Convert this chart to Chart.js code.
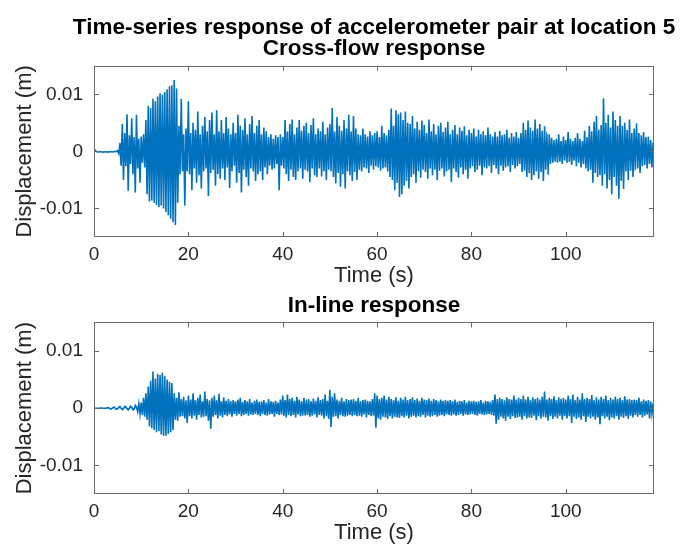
<!DOCTYPE html>
<html>
<head>
<meta charset="utf-8">
<script src="https://cdn.jsdelivr.net/npm/chart.js@4.4.1/dist/chart.umd.min.js"></script>
<style>
  html, body { margin: 0; padding: 0; background: #fff; overflow: hidden; }
  #wrap { position: relative; width: 686px; height: 545px; overflow: hidden; }
  .panel { position: absolute; left: 0; width: 748px; }
  #top { top: 0; height: 290px; }
  #bot { top: 290px; height: 255px; }
</style>
</head>
<body>
<div id="wrap">
  <div class="panel" id="top"><canvas id="crossChart" width="748" height="290"></canvas></div>
  <div class="panel" id="bot"><canvas id="inlineChart" width="748" height="255"></canvas></div>
</div>
<script>
// sample spacing of the values below (s)
const DT = 0.25;
const X_MAX = 118.7;
const Y_MIN = -0.015, Y_MAX = 0.015;
const X_TICKS = [0, 20, 40, 60, 80, 100];
const Y_TICKS = [-0.01, 0, 0.01];
const X_TICK_LABELS = ['0', '20', '40', '60', '80', '100'];
const Y_TICK_LABELS = ['-0.01', '0', '0.01'];

const MAIN_TITLE = ['Time-series response of accelerometer pair at location 5', 'Cross-flow response'];
const INLINE_TITLE = 'In-line response';
const X_LABEL = 'Time (s)';
const Y_LABEL = 'Displacement (m)';

// displacement, in mm, one row per 5 s
const crossFlowMM = [
  0.4,0.2,0.0,-0.1,-0.1,-0.05,-0.1,-0.1,-0.15,-0.1,-0.1,-0.1,-0.15,-0.1,-0.05,-0.1,-0.1,-0.05,0.0,-0.05,
  0.1,-0.4,1.5,-2.5,4.8,-5.0,3.2,-2.6,6.5,-6.9,2.8,-2.2,5.8,-4.0,2.5,-7.2,6.4,-3.0,2.2,-5.5,
  2.6,-2.0,3.0,-2.8,5.5,-7.5,8.0,-8.8,7.6,-8.6,9.2,-9.0,8.8,-9.4,9.6,-9.8,10.2,-9.5,9.9,-10.0,
  10.4,-10.6,10.9,-11.2,11.4,-11.8,11.6,-12.4,12.5,-12.9,11.0,-9.0,4.5,-4.0,9.2,-3.5,3.0,-9.5,4.0,-3.5,
  8.8,-4.0,3.2,-6.8,5.0,-3.0,3.8,-5.5,7.0,-4.2,3.0,-6.5,4.5,-3.5,6.0,-3.0,3.5,-7.8,5.5,-3.8,
  6.8,-3.2,3.0,-6.0,7.2,-4.0,3.5,-4.8,5.5,-3.0,3.2,-5.0,6.0,-2.8,4.0,-6.4,3.0,-3.5,5.0,-2.5,
  3.2,-5.5,6.4,-3.8,4.5,-7.2,3.8,-3.2,5.8,-4.5,3.0,-6.0,4.8,-3.0,6.2,-3.5,3.2,-5.2,4.5,-4.0,
  5.5,-3.5,3.0,-5.0,4.2,-2.8,3.5,-4.0,2.5,-2.5,3.0,-3.2,2.2,-3.0,2.8,-2.2,2.5,-6.8,3.0,-2.5,
  2.5,-3.0,5.5,-4.0,3.5,-5.2,4.8,-3.2,5.6,-4.5,3.0,-5.0,4.2,-3.5,5.5,-3.0,3.6,-4.8,4.5,-3.2,
  5.0,-3.5,3.2,-5.4,4.6,-3.0,5.8,-4.2,3.0,-4.5,4.0,-3.0,3.5,-4.4,5.2,-3.5,3.0,-5.0,4.2,-3.2,
  4.8,-3.5,7.6,-4.5,3.5,-5.6,6.0,-3.8,4.5,-6.2,3.6,-4.0,5.5,-6.5,4.0,-3.5,6.4,-4.2,3.5,-5.2,
  6.2,-3.6,4.0,-5.0,3.0,-3.2,2.8,-3.5,4.0,-2.8,3.0,-3.0,2.6,-3.8,3.5,-2.5,2.8,-3.2,3.2,-2.6,
  3.5,-2.8,2.5,-3.4,4.5,-3.0,3.2,-2.8,2.8,-3.5,3.8,-4.5,7.5,-5.0,4.5,-6.8,7.2,-5.5,6.5,-8.0,
  6.8,-7.5,5.5,-6.0,7.0,-5.2,5.0,-6.5,4.8,-4.5,6.2,-4.0,4.0,-5.5,5.2,-3.5,3.8,-4.6,5.4,-3.2,
  4.6,-3.6,3.2,-4.8,5.6,-3.0,3.5,-4.2,4.8,-3.2,3.0,-5.0,4.5,-3.4,5.0,-3.0,3.4,-4.4,4.2,-3.5,
  5.2,-3.2,3.0,-5.4,3.8,-3.0,4.6,-3.6,3.0,-4.6,4.2,-2.8,3.6,-4.0,4.4,-3.2,2.8,-4.8,3.8,-3.0,
  3.2,-2.6,4.0,-3.6,2.6,-3.2,3.8,-2.5,3.0,-4.2,3.5,-2.8,2.8,-3.0,4.2,-2.6,3.0,-3.8,2.6,-2.4,
  3.4,-3.0,2.6,-4.0,3.6,-2.5,2.8,-3.4,3.0,-2.8,3.8,-2.6,2.4,-3.6,3.2,-2.4,2.6,-3.0,3.4,-2.6,
  2.4,-2.2,3.2,-3.6,5.0,-3.4,3.8,-4.5,5.4,-3.8,4.2,-5.0,3.6,-4.2,5.6,-3.5,4.0,-4.8,4.8,-3.6,
  3.6,-5.2,4.4,-3.2,3.0,-4.0,3.0,-2.2,2.4,-2.0,2.0,-1.8,2.2,-2.0,3.0,-1.8,1.8,-2.2,2.6,-1.6,
  2.0,-2.0,3.4,-1.8,2.2,-2.4,1.8,-1.6,2.4,-2.6,3.2,-2.0,2.2,-2.8,1.8,-2.2,3.6,-3.0,2.5,-3.5,
  4.5,-3.2,3.5,-5.5,5.2,-3.8,6.2,-4.5,3.8,-4.2,4.6,-6.0,9.3,-4.0,5.0,-6.5,6.4,-5.0,4.2,-7.5,
  7.0,-4.5,5.5,-6.0,4.5,-8.3,6.2,-5.2,4.5,-6.6,5.0,-3.5,3.8,-5.0,5.6,-3.4,3.2,-4.5,4.0,-3.0,
  4.8,-3.0,3.2,-3.8,2.8,-2.6,3.4,-2.4,2.5,-3.0,2.6,-2.2,2.0,-2.8,1.5,-0.5
];

const inLineMM = [
  0.0,0.0,0.0,0.0,0.0,0.0,0.05,0.0,0.0,-0.05,0.0,0.05,0.1,0.0,-0.15,-0.1,0.1,0.2,0.0,-0.2,
  -0.1,0.2,0.3,0.0,-0.25,-0.1,0.3,0.25,-0.1,-0.3,0.0,0.35,0.2,-0.3,-0.2,0.5,0.2,-0.6,0.8,-1.0,
  1.0,-1.2,1.8,-1.5,2.6,-2.0,3.8,-3.2,4.8,-3.5,6.4,-3.8,5.2,-4.2,6.0,-4.0,5.8,-4.6,6.2,-4.8,
  5.6,-4.8,5.0,-4.5,4.6,-4.2,4.4,-3.8,2.6,-2.0,1.8,-2.2,2.8,-1.5,1.6,-1.4,2.0,-1.8,1.4,-2.6,
  2.2,-1.4,1.5,-1.8,2.6,-1.3,1.4,-2.0,1.8,-1.2,2.4,-1.6,1.2,-1.5,2.9,-1.4,1.6,-2.2,1.4,-3.6,
  1.8,-1.5,2.2,-1.2,1.4,-1.8,2.5,-1.3,1.2,-1.6,1.9,-1.2,1.3,-1.4,1.6,-1.1,1.2,-1.5,1.4,-1.0,
  1.2,-1.3,1.5,-1.0,1.8,-1.4,1.1,-1.2,1.4,-1.0,1.2,-1.3,1.6,-1.1,1.0,-1.2,1.3,-1.0,1.5,-1.2,
  1.1,-1.4,1.2,-1.0,1.4,-1.2,1.0,-1.3,1.6,-1.1,1.2,-1.0,1.1,-1.5,1.3,-1.0,1.0,-1.2,1.5,-1.1,
  2.2,-1.3,1.4,-1.6,2.4,-1.2,1.6,-1.4,1.8,-1.2,1.3,-1.6,2.0,-1.1,1.5,-1.4,1.2,-1.3,1.8,-1.2,
  1.4,-1.2,1.6,-1.5,1.2,-1.3,1.7,-1.1,1.3,-1.6,1.9,-1.2,1.4,-1.3,1.6,-1.8,2.4,-1.4,1.3,-1.9,
  3.2,-3.3,2.0,-1.5,2.6,-1.4,1.5,-1.8,1.3,-1.2,1.8,-1.4,1.2,-1.5,1.6,-1.3,1.4,-1.2,1.5,-1.4,
  1.6,-1.2,1.3,-1.4,1.8,-1.3,1.2,-1.5,1.4,-1.1,1.5,-1.6,1.3,-1.2,1.2,-1.4,1.6,-1.3,2.6,-3.4,
  2.2,-1.8,1.6,-2.0,1.8,-1.5,2.2,-1.6,1.5,-1.9,2.0,-1.4,1.6,-1.8,1.4,-1.5,1.9,-1.6,1.3,-1.7,
  1.8,-1.4,1.5,-1.6,2.0,-1.3,1.4,-1.8,1.6,-1.5,1.9,-1.3,1.4,-1.6,1.7,-1.4,1.3,-1.5,1.8,-1.2,
  1.5,-1.6,1.4,-1.3,1.7,-1.5,1.3,-1.4,1.6,-1.2,1.4,-1.5,1.2,-1.3,1.5,-1.2,1.3,-1.4,1.4,-1.1,
  1.3,-1.2,1.4,-1.3,1.2,-1.1,1.5,-1.3,1.1,-1.2,1.3,-1.0,1.2,-1.3,1.4,-1.1,1.0,-1.2,1.3,-1.1,
  1.2,-1.0,1.3,-1.2,1.1,-1.3,1.2,-1.0,1.4,-1.1,1.0,-1.2,1.3,-1.1,1.2,-1.0,1.1,-1.2,1.4,-1.3,
  2.4,-2.7,1.6,-2.0,1.8,-1.5,1.6,-1.8,1.4,-2.2,1.9,-1.5,1.6,-1.9,1.5,-1.4,2.2,-1.7,1.5,-1.6,
  1.8,-1.5,1.6,-2.0,2.2,-1.4,1.5,-1.8,2.0,-1.6,1.4,-1.7,1.9,-1.3,1.6,-2.1,1.8,-1.4,1.5,-1.8,
  2.0,-1.5,2.9,-1.6,1.5,-2.2,1.8,-1.4,1.6,-1.9,2.1,-1.5,1.4,-1.8,1.9,-1.3,1.6,-2.0,1.8,-1.4,
  1.5,-1.8,2.2,-1.4,1.6,-2.6,2.4,-1.5,1.4,-1.9,2.0,-1.6,1.5,-2.0,2.6,-1.4,1.6,-2.4,1.8,-1.5,
  1.6,-1.8,2.3,-1.5,1.4,-2.0,1.9,-1.6,1.5,-2.8,2.0,-1.4,1.6,-1.8,2.2,-1.5,1.4,-2.1,1.8,-1.6,
  1.5,-1.8,2.0,-1.4,1.6,-2.0,1.8,-1.5,1.4,-1.7,2.1,-1.4,1.5,-1.9,1.6,-1.3,1.4,-1.6,1.5,-1.2,
  1.4,-1.5,1.8,-1.2,1.2,-1.6,1.5,-1.3,1.3,-1.1,1.4,-1.8,1.2,-1.0,0.8,0.4
];

const LINE_COLOR = '#0072BD';
const AXIS_COLOR = '#6a6a6a';
const TEXT_COLOR = '#262626';
const TICK_LEN = 5;

Chart.defaults.font.family = '"Liberation Sans", Arial, Helvetica, sans-serif';
Chart.defaults.color = TEXT_COLOR;

function toPoints(arr) {
  return arr.map((v, i) => ({ x: i * DT, y: v / 1000 }));
}

// MATLAB style box with tick marks pointing inwards on all four sides
const innerTicks = {
  id: 'innerTicks',
  afterDatasetsDraw(chart) {
    const { ctx, chartArea: a, scales: { x, y } } = chart;
    ctx.save();
    ctx.strokeStyle = AXIS_COLOR;
    ctx.lineWidth = 1;
    ctx.beginPath();
    x.ticks.forEach(t => {
      const px = Math.round(x.getPixelForValue(t.value)) + 0.5;
      ctx.moveTo(px, a.bottom); ctx.lineTo(px, a.bottom - TICK_LEN);
      ctx.moveTo(px, a.top); ctx.lineTo(px, a.top + TICK_LEN);
    });
    y.ticks.forEach(t => {
      const py = Math.round(y.getPixelForValue(t.value)) + 0.5;
      ctx.moveTo(a.left, py); ctx.lineTo(a.left + TICK_LEN, py);
      ctx.moveTo(a.right, py); ctx.lineTo(a.right - TICK_LEN, py);
    });
    ctx.stroke();
    ctx.strokeRect(Math.round(a.left) + 0.5, Math.round(a.top) + 0.5,
      Math.round(a.width) - 1, Math.round(a.height) - 1);
    ctx.restore();
  }
};

function makeChart(id, values, title, titlePad, axisHeight, xTitlePadBottom) {
  return new Chart(document.getElementById(id), {
    type: 'line',
    data: {
      datasets: [{
        data: toPoints(values),
        borderColor: LINE_COLOR,
        backgroundColor: LINE_COLOR,
        borderWidth: 1.6,
        pointRadius: 0,
        // tiny tension keeps the segments straight but avoids the per-pixel fast path
        tension: 0.0001,
        // filling to zero makes the dense core solid, as in the original plot
        fill: 'origin'
      }]
    },
    options: {
      responsive: false,
      animation: false,
      parsing: false,
      layout: { padding: 0 },
      plugins: {
        legend: { display: false },
        tooltip: { enabled: false },
        title: {
          display: true,
          text: title,
          color: '#000',
          font: { size: 22.5, weight: 'bold', lineHeight: 0.95 },
          padding: titlePad
        }
      },
      scales: {
        x: {
          type: 'linear',
          min: 0, max: X_MAX,
          grid: { display: false, drawTicks: false },
          border: { display: false },
          afterBuildTicks: s => { s.ticks = X_TICKS.map(v => ({ value: v })); },
          afterFit: s => { s.height = axisHeight; },
          ticks: {
            font: { size: 19 },
            padding: 6,
            maxRotation: 0,
            callback: (v, i) => X_TICK_LABELS[i]
          },
          title: {
            display: true, text: X_LABEL,
            font: { size: 22 }, padding: { top: 0, bottom: xTitlePadBottom }
          }
        },
        y: {
          type: 'linear',
          min: Y_MIN, max: Y_MAX,
          grid: { display: false, drawTicks: false },
          border: { display: false },
          afterBuildTicks: s => { s.ticks = Y_TICKS.map(v => ({ value: v })); },
          afterFit: s => { s.width = 94; },
          ticks: {
            font: { size: 19 },
            padding: 11,
            callback: (v, i) => Y_TICK_LABELS[i]
          },
          title: {
            display: true, text: Y_LABEL,
            font: { size: 22 }, padding: { top: 12, bottom: 0 }
          }
        },
        // empty right-hand axis as wide as the left one, so the title sits over the plot box
        yRight: {
          position: 'right',
          grid: { display: false, drawTicks: false },
          border: { display: false },
          ticks: { display: false },
          afterFit: s => { s.width = 94; }
        }
      }
    },
    plugins: [innerTicks]
  });
}

makeChart('crossChart', crossFlowMM, MAIN_TITLE, { top: 17, bottom: 6 }, 53, 1);
makeChart('inlineChart', inLineMM, INLINE_TITLE, { top: 5, bottom: 6 }, 51, -1);
</script>
</body>
</html>
